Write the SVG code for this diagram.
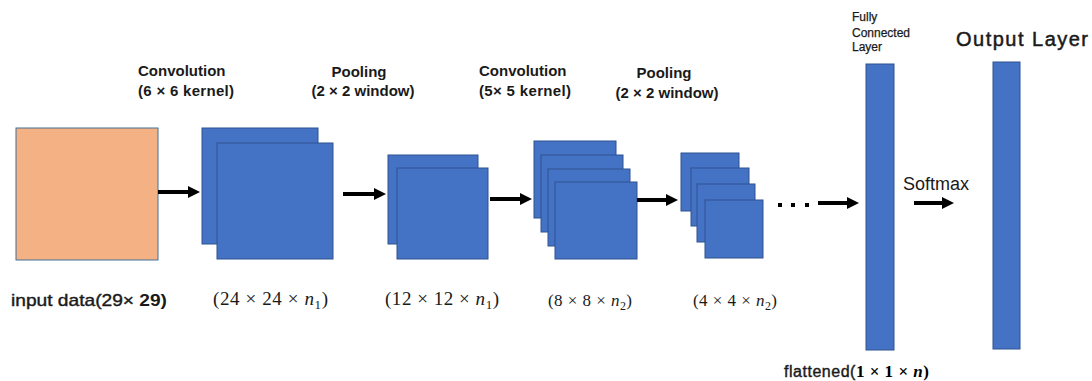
<svg xmlns="http://www.w3.org/2000/svg" width="1092" height="381" viewBox="0 0 1092 381">
  <defs>
    <marker id="head" viewBox="0 0 12 12" refX="2" refY="6" markerWidth="12" markerHeight="12" markerUnits="userSpaceOnUse" orient="auto">
      <path d="M0,0 L12,6 L0,12 Z" fill="#000"/>
    </marker>
    <style>
      .map { fill: #4472C4; stroke: #2F528F; stroke-width: 1; }
      .input { fill: #F4B183; stroke: #41719C; stroke-width: 1; }
      .arrow { stroke: #000; stroke-width: 4; fill: none; marker-end: url(#head); }
      .lbl { font-family: "Liberation Sans", Arial, sans-serif; font-weight: bold; font-size: 15px; fill: #1a1a1a; }
      .dim { font-family: "Liberation Serif", "Times New Roman", serif; font-size: 19px; fill: #1a1a1a; }
      .dim2 { font-family: "Liberation Serif", "Times New Roman", serif; font-size: 17px; fill: #1a1a1a; }
      .sans { font-family: "Liberation Sans", Arial, sans-serif; fill: #1a1a1a; }
    </style>
  </defs>

  <rect width="1092" height="381" fill="#fff"/>

  <!-- input image -->
  <g id="input">
    <rect class="input" x="16" y="128" width="142" height="132"/>
    <text class="sans" x="11" y="306" font-size="17" textLength="156" lengthAdjust="spacingAndGlyphs"><tspan stroke="#1a1a1a" stroke-width="0.4">input data(29×</tspan><tspan font-weight="bold"> 29)</tspan></text>
  </g>

  <!-- first convolution -->
  <g id="conv1">
    <rect class="map" x="202" y="128" width="116" height="116"/>
    <rect class="map" x="217" y="143" width="116" height="116"/>
    <text class="lbl" x="138" y="76">Convolution</text>
    <text class="lbl" x="138" y="96" textLength="96">(6 × 6 kernel)</text>
    <text class="dim" x="213" y="305" textLength="115">(24 × 24 × <tspan font-style="italic">n</tspan><tspan font-size="13" dy="4">1</tspan><tspan dy="-4">)</tspan></text>
  </g>

  <!-- first pooling -->
  <g id="pool1">
    <rect class="map" x="388" y="155" width="90" height="89"/>
    <rect class="map" x="397" y="168" width="91" height="91"/>
    <text class="lbl" x="359" y="77" text-anchor="middle">Pooling</text>
    <text class="lbl" x="363" y="96" text-anchor="middle">(2 × 2 window)</text>
    <text class="dim" x="385" y="305" textLength="114">(12 × 12 × <tspan font-style="italic">n</tspan><tspan font-size="13" dy="4">1</tspan><tspan dy="-4">)</tspan></text>
  </g>

  <!-- second convolution -->
  <g id="conv2">
    <rect class="map" x="534" y="141" width="82" height="77"/>
    <rect class="map" x="541" y="155" width="82" height="77"/>
    <rect class="map" x="548" y="169" width="82" height="77"/>
    <rect class="map" x="555" y="182" width="82" height="77"/>
    <text class="lbl" x="479" y="76">Convolution</text>
    <text class="lbl" x="479" y="96" textLength="92">(5× 5 kernel)</text>
    <text class="dim2" x="548" y="306" textLength="84">(8 × 8 × <tspan font-style="italic">n</tspan><tspan font-size="12" dy="4">2</tspan><tspan dy="-4">)</tspan></text>
  </g>

  <!-- second pooling -->
  <g id="pool2">
    <rect class="map" x="681" y="153" width="58" height="58"/>
    <rect class="map" x="691" y="168" width="58" height="58"/>
    <rect class="map" x="697" y="184" width="58" height="58"/>
    <rect class="map" x="705" y="200" width="58" height="58"/>
    <text class="lbl" x="664" y="78" text-anchor="middle">Pooling</text>
    <text class="lbl" x="667" y="98" text-anchor="middle">(2 × 2 window)</text>
    <text class="dim2" x="693" y="306" textLength="84">(4 × 4 × <tspan font-style="italic">n</tspan><tspan font-size="12" dy="4">2</tspan><tspan dy="-4">)</tspan></text>
  </g>

  <!-- ellipsis between pooling and dense layers -->
  <g id="ellipsis" fill="#000">
    <rect x="778" y="203" width="4" height="4"/>
    <rect x="791" y="203" width="4" height="4"/>
    <rect x="805" y="203" width="4" height="4"/>
  </g>

  <!-- fully connected layer -->
  <g id="fc">
    <rect class="map" x="866" y="64" width="28" height="286"/>
    <text class="sans" font-size="12" x="852" y="21" stroke="#1a1a1a" stroke-width="0.25">Fully</text>
    <text class="sans" font-size="12" x="852" y="37" stroke="#1a1a1a" stroke-width="0.25">Connected</text>
    <text class="sans" font-size="12" x="852" y="51" stroke="#1a1a1a" stroke-width="0.25">Layer</text>
    <text x="784" y="377" textLength="145"><tspan class="sans" font-size="16" stroke="#1a1a1a" stroke-width="0.4">flattened(</tspan><tspan font-family="'Liberation Serif', serif" font-size="17" font-weight="bold">1 × 1 × <tspan font-style="italic">n</tspan>)</tspan></text>
  </g>

  <!-- output layer -->
  <g id="output">
    <rect class="map" x="993" y="62" width="27" height="287"/>
    <text class="sans" x="956" y="46" font-size="20" stroke="#1a1a1a" stroke-width="0.5" textLength="132">Output Layer</text>
  </g>

  <!-- connectors -->
  <g id="connectors">
    <line class="arrow" x1="158" y1="192" x2="190" y2="192"/>
    <line class="arrow" x1="343" y1="194" x2="376" y2="194"/>
    <line class="arrow" x1="490" y1="199" x2="522" y2="199"/>
    <line class="arrow" x1="637" y1="200" x2="668" y2="200"/>
    <line class="arrow" x1="818" y1="203" x2="849" y2="203"/>
    <line class="arrow" x1="914" y1="203" x2="944" y2="203"/>
    <text class="sans" x="903" y="190" font-size="18">Softmax</text>
  </g>
</svg>
